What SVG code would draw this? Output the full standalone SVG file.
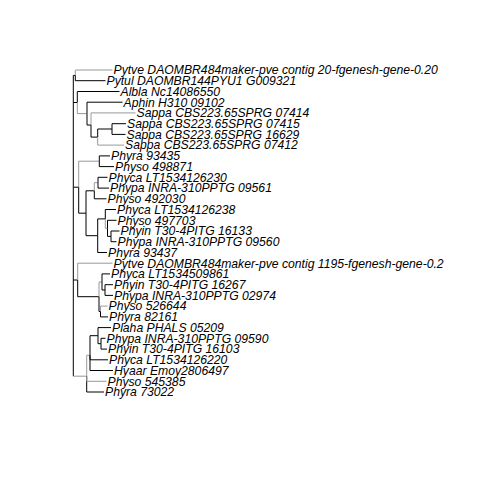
<svg xmlns="http://www.w3.org/2000/svg" width="480" height="480" viewBox="0 0 480 480">
<style>
.k{fill:none;stroke:#000;stroke-width:1}
.g{fill:none;stroke:#999;stroke-width:1}
text{font-family:"Liberation Sans",Arial,Helvetica,sans-serif;font-style:italic;font-size:12.2px;fill:#000}
</style>
<rect width="480" height="480" fill="#fff"/>
<g id="edges">
<path class="k" d="M73.3 75.4V376.2"/>
<path class="k" d="M73.3 75.4H75.3"/>
<path class="g" d="M75.3 75.4V70H112.5"/>
<path class="k" d="M75.3 75.4V80.7H105.5"/>
<path class="k" d="M73.3 102.5H77.3"/>
<path class="k" d="M77.3 102.5V91.5H119.5"/>
<path class="g" d="M77.3 102.5V113.6H87"/>
<path class="k" d="M87 113.6V102.2H122.5"/>
<path class="k" d="M87 113.6V125H91"/>
<path class="g" d="M91 125V112.9H135.5"/>
<path class="k" d="M91 125V137.1H97.7"/>
<path class="k" d="M97.7 137.1V129H112"/>
<path class="g" d="M97.7 137.1V145.1H124"/>
<path class="k" d="M112 129V123.7H126"/>
<path class="k" d="M112 129V134.4H125.5"/>
<path class="k" d="M73.3 187.2H78.7"/>
<path class="g" d="M78.7 187.2V161.2H99.3"/>
<path class="k" d="M99.3 161.2V155.9H110"/>
<path class="k" d="M99.3 161.2V166.6H114"/>
<path class="k" d="M78.7 187.2V213.2H86"/>
<path class="k" d="M86 213.2V190.8H94.3"/>
<path class="g" d="M94.3 190.8V182.7H98"/>
<path class="k" d="M98 182.7V177.3H107.5"/>
<path class="k" d="M98 182.7V188.1H109"/>
<path class="k" d="M94.3 190.8V198.8H106.5"/>
<path class="k" d="M86 213.2V235.7H97.7"/>
<path class="k" d="M97.7 235.7V218.9H105.3"/>
<path class="k" d="M105.3 218.9V209.5H116"/>
<path class="g" d="M105.3 218.9V228.3H107.5"/>
<path class="k" d="M107.5 228.3V220.3H116.5"/>
<path class="k" d="M107.5 228.3V236.4H111"/>
<path class="k" d="M111 236.4V231H119.5"/>
<path class="k" d="M111 236.4V241.7H116.5"/>
<path class="k" d="M97.7 235.7V252.5H107"/>
<path class="k" d="M73.3 280H77.7"/>
<path class="g" d="M77.7 280V263.2H112.5"/>
<path class="k" d="M77.7 280V296.7H99"/>
<path class="g" d="M99 296.7V282H102"/>
<path class="k" d="M102 282V273.9H110"/>
<path class="k" d="M102 282V290H105"/>
<path class="k" d="M105 290V284.7H113"/>
<path class="k" d="M105 290V295.4H113"/>
<path class="k" d="M99 296.7V311.5H100.5"/>
<path class="g" d="M100.5 311.5V306.1H107.5"/>
<path class="k" d="M100.5 311.5V316.9H108"/>
<path class="g" d="M73.3 376.2H86.7"/>
<path class="g" d="M86.7 376.2V355.3H90"/>
<path class="k" d="M90 355.3V335.7H98"/>
<path class="k" d="M98 335.7V327.6H111"/>
<path class="k" d="M98 335.7V343.7H101"/>
<path class="k" d="M101 343.7V338.3H105.5"/>
<path class="k" d="M101 343.7V349.1H107"/>
<path class="k" d="M90 355.3V359.8H108"/>
<path class="k" d="M90 355.3V370.5H113"/>
<path class="k" d="M86.7 376.2V392H104"/>
<path class="g" d="M86.7 376.2V381.3H106.5"/>
</g>
<g id="t00"><text x="113.5" y="74.3">Pytve DAOMBR484maker-pve contig 20-fgenesh-gene-0.20</text></g>
<g id="t01"><text x="106.5" y="85">Pytul DAOMBR144PYU1 G009321</text></g>
<g id="t02"><text x="120.5" y="95.8">Albla Nc14086550</text></g>
<g id="t03"><text x="123.5" y="106.5">Aphin H310 09102</text></g>
<g id="t04"><text x="136.5" y="117.2">Sappa CBS223.65SPRG 07414</text></g>
<g id="t05"><text x="127" y="128">Sappa CBS223.65SPRG 07415</text></g>
<g id="t06"><text x="126.5" y="138.7">Sappa CBS223.65SPRG 16629</text></g>
<g id="t07"><text x="125" y="149.4">Sappa CBS223.65SPRG 07412</text></g>
<g id="t08"><text x="111" y="160.2">Phyra 93435</text></g>
<g id="t09"><text x="115" y="170.9">Physo 498871</text></g>
<g id="t10"><text x="108.5" y="181.6">Phyca LT1534126230</text></g>
<g id="t11"><text x="110" y="192.4">Phypa INRA-310PPTG 09561</text></g>
<g id="t12"><text x="107.5" y="203.1">Physo 492030</text></g>
<g id="t13"><text x="117" y="213.8">Phyca LT1534126238</text></g>
<g id="t14"><text x="117.5" y="224.6">Physo 497703</text></g>
<g id="t15"><text x="120.5" y="235.3">Phyin T30-4PITG 16133</text></g>
<g id="t16"><text x="117.5" y="246">Phypa INRA-310PPTG 09560</text></g>
<g id="t17"><text x="108" y="256.8">Phyra 93437</text></g>
<g id="t18"><text x="113.5" y="267.5">Pytve DAOMBR484maker-pve contig 1195-fgenesh-gene-0.2</text></g>
<g id="t19"><text x="111" y="278.2">Phyca LT1534509861</text></g>
<g id="t20"><text x="114" y="289">Phyin T30-4PITG 16267</text></g>
<g id="t21"><text x="114" y="299.7">Phypa INRA-310PPTG 02974</text></g>
<g id="t22"><text x="108.5" y="310.4">Physo 526644</text></g>
<g id="t23"><text x="109" y="321.2">Phyra 82161</text></g>
<g id="t24"><text x="112" y="331.9">Plaha PHALS 05209</text></g>
<g id="t25"><text x="106.5" y="342.6">Phypa INRA-310PPTG 09590</text></g>
<g id="t26"><text x="108" y="353.4">Phyin T30-4PITG 16103</text></g>
<g id="t27"><text x="109" y="364.1">Phyca LT1534126220</text></g>
<g id="t28"><text x="114" y="374.8">Hyaar Emoy2806497</text></g>
<g id="t29"><text x="107.5" y="385.6">Physo 545385</text></g>
<g id="t30"><text x="105" y="396.3">Phyra 73022</text></g>
</svg>
